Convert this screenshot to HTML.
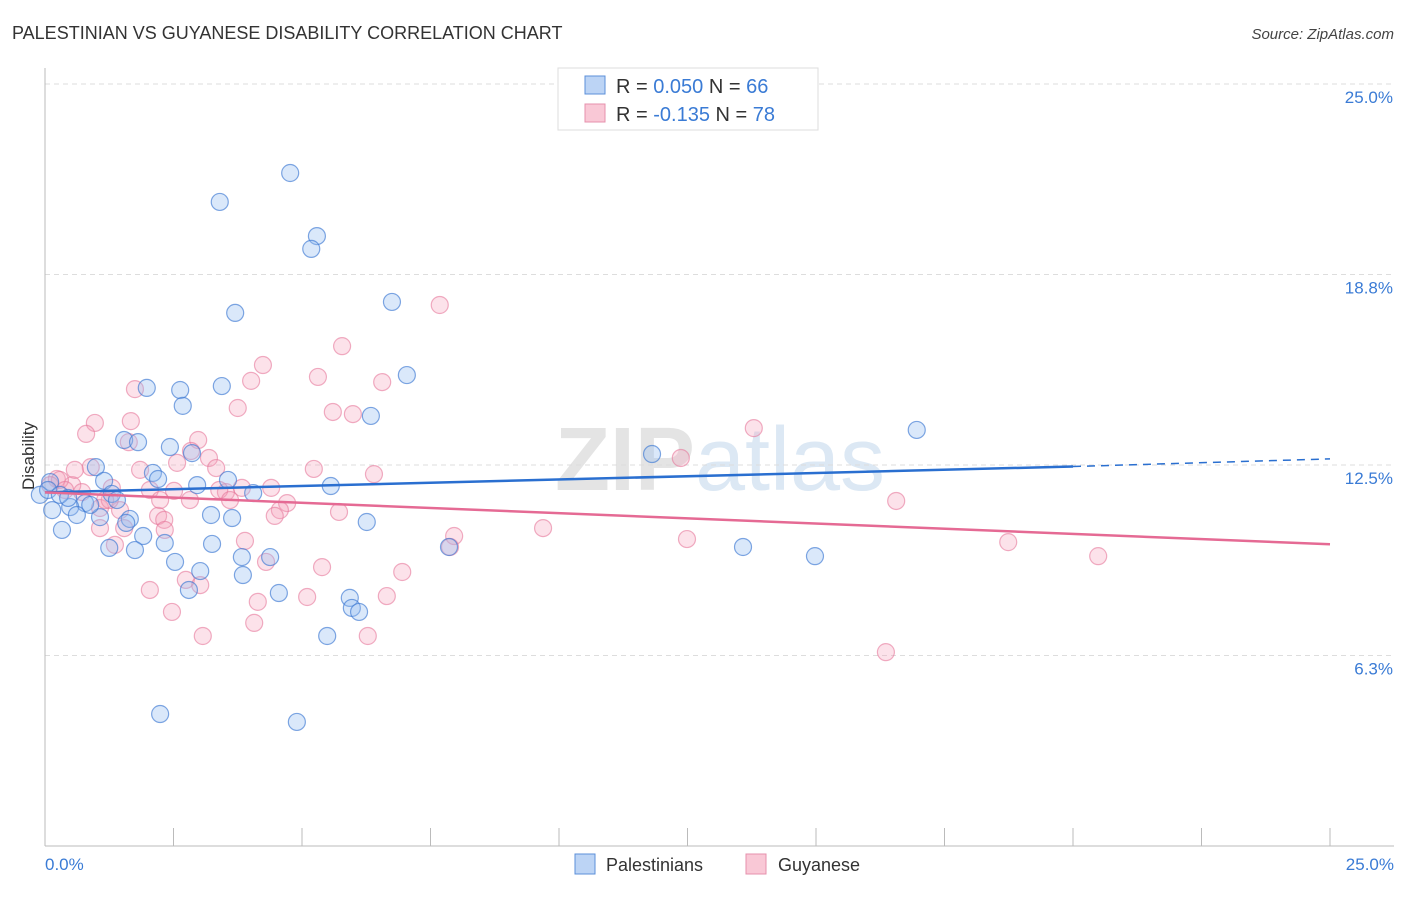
<!DOCTYPE html>
<html><head><meta charset="utf-8"><style>
body{margin:0;background:#fff;font-family:"Liberation Sans",sans-serif;}
svg text{font-family:"Liberation Sans",sans-serif;}
</style></head><body>
<svg id="chart" width="1406" height="892" viewBox="0 0 1406 892" xmlns="http://www.w3.org/2000/svg">
<text x="12" y="39" font-size="18" fill="#333">PALESTINIAN VS GUYANESE DISABILITY CORRELATION CHART</text>
<text x="1394" y="39" font-size="15" fill="#444" text-anchor="end" font-style="italic">Source: ZipAtlas.com</text>
<text x="720" y="490" font-size="90" fill="#e4e4e4" text-anchor="middle" font-family="Liberation Serif"><tspan font-weight="bold">ZIP</tspan><tspan fill="#dce8f4" font-family="Liberation Sans">atlas</tspan></text>
<g id="grid"></g>
<line x1="45" y1="68" x2="45" y2="846" stroke="#bbb"/>
<line x1="45" y1="846" x2="1394" y2="846" stroke="#bbb"/>
<g id="ticks"></g>
<text transform="translate(34,456) rotate(-90)" font-size="17" fill="#333" text-anchor="middle">Disability</text>
<text x="45" y="870" font-size="17" fill="#3a7bd5">0.0%</text>
<text x="1394" y="870" font-size="17" fill="#3a7bd5" text-anchor="end">25.0%</text>
<g id="pts"></g>
<g id="lines"></g>
<g>
<rect x="558" y="68" width="260" height="62" fill="#fff" stroke="#ddd"/>
<rect x="585" y="76" width="20" height="18" fill="#bcd4f5" stroke="#5b8fd9"/>
<rect x="585" y="104" width="20" height="18" fill="#f9c8d6" stroke="#e690ac"/>
<text x="616" y="93" font-size="20" fill="#333">R = <tspan fill="#3a7bd5">0.050</tspan>   N = <tspan fill="#3a7bd5">66</tspan></text>
<text x="616" y="121" font-size="20" fill="#333">R = <tspan fill="#3a7bd5">-0.135</tspan>   N = <tspan fill="#3a7bd5">78</tspan></text>
</g>
<g>
<rect x="575" y="854" width="20" height="20" fill="#bcd4f5" stroke="#5b8fd9"/>
<text x="606" y="871" font-size="18" fill="#333">Palestinians</text>
<rect x="746" y="854" width="20" height="20" fill="#f9c8d6" stroke="#e690ac"/>
<text x="778" y="871" font-size="18" fill="#333">Guyanese</text>
</g>
</svg>
<script>
const yTicks=[6.25,12.5,18.75,25];
const yTickLabels=["6.3%","12.5%","18.8%","25.0%"];
const xTicks=[0,2.5,5,7.5,10,12.5,15,17.5,20,22.5,25];
const bluePx=[[290,173],[220,202],[317,236],[311,249],[392,302],[235,313],[407,375],[147,388],[180,390],[222,386],[183,406],[371,416],[917,430],[652,454],[124,440],[138,442],[170,447],[192,453],[228,480],[153,473],[158,479],[96,467],[50,482],[104,481],[112,494],[197,485],[253,493],[331,486],[85,503],[70,507],[52,510],[77,515],[100,517],[130,519],[211,515],[232,518],[367,522],[126,523],[62,530],[143,536],[165,543],[212,544],[242,557],[270,557],[109,548],[135,550],[449,547],[743,547],[815,556],[175,562],[200,571],[243,575],[279,593],[189,590],[350,598],[352,608],[359,612],[327,636],[160,714],[297,722],[40,495],[48,490],[60,495],[68,498],[117,500],[90,505]];
const pinkPx=[[440,305],[342,346],[263,365],[318,377],[251,381],[135,389],[382,382],[333,412],[353,414],[238,408],[131,421],[95,423],[86,434],[129,442],[198,440],[754,428],[191,451],[209,458],[177,463],[91,467],[314,469],[374,474],[681,458],[216,468],[57,479],[72,485],[82,492],[112,488],[150,490],[174,491],[226,492],[242,488],[271,488],[219,490],[100,508],[120,510],[158,516],[287,503],[280,510],[275,516],[339,512],[896,501],[543,528],[124,528],[164,520],[100,528],[165,530],[454,536],[687,539],[1008,542],[1098,556],[245,541],[115,545],[450,547],[266,562],[322,567],[402,572],[186,580],[200,585],[150,590],[307,597],[258,602],[387,596],[172,612],[254,623],[203,636],[368,636],[886,652],[60,480],[50,485],[65,490],[110,500],[140,470],[75,470],[105,500],[230,500],[160,500],[190,500]];
// convert read pixel positions to data values (percent)
const blueX=bluePx.map(p=>+((p[0]-45)/51.4).toFixed(2));
const blueY=bluePx.map(p=>+((846-p[1])/30.48).toFixed(2));
const pinkX=pinkPx.map(p=>+((p[0]-45)/51.4).toFixed(2));
const pinkY=pinkPx.map(p=>+((846-p[1])/30.48).toFixed(2));
const blueTrend=[[0,11.6],[20,12.45],[25,12.7]];
const pinkTrend=[[0,11.6],[25,9.9]];
const X=v=>45+v*51.4, Y=v=>846-v*30.48;
const NS="http://www.w3.org/2000/svg";
function mk(t,a,parent){const e=document.createElementNS(NS,t);for(const k in a)e.setAttribute(k,a[k]);parent.appendChild(e);return e;}
const grid=document.getElementById('grid'),ticks=document.getElementById('ticks');
yTicks.forEach((v,i)=>{
 const l=mk('line',{x1:45,x2:1394,y1:Y(v),y2:Y(v),stroke:'#ddd','stroke-dasharray':'5,4'},grid);
 
 
 const t=mk('text',{x:1393,y:Y(v)+19,'font-size':17,fill:'#3a7bd5','text-anchor':'end'},ticks);
 t.textContent=yTickLabels[i];
 
 
});
xTicks.forEach(v=>{
 const l=mk('line',{x1:X(v),x2:X(v),y1:828,y2:846,stroke:'#bbb'},ticks);
 
 
});
const pts=document.getElementById('pts');
pinkX.forEach((x,i)=>{
 const c=mk('circle',{cx:X(x),cy:Y(pinkY[i]),r:8.5,fill:'rgba(244,160,185,0.3)',stroke:'rgba(230,120,155,0.6)','stroke-width':1.2},pts);
 
 
});
blueX.forEach((x,i)=>{
 const c=mk('circle',{cx:X(x),cy:Y(blueY[i]),r:8.5,fill:'rgba(150,190,240,0.35)',stroke:'rgba(60,120,210,0.65)','stroke-width':1.2},pts);
 
 
});
const lines=document.getElementById('lines');
let b=mk('line',{x1:X(blueTrend[0][0]),y1:Y(blueTrend[0][1]),x2:X(blueTrend[1][0]),y2:Y(blueTrend[1][1]),stroke:'#2a6fd0','stroke-width':2.5},lines);


let bd=mk('line',{x1:X(blueTrend[1][0]),y1:Y(blueTrend[1][1]),x2:X(blueTrend[2][0]),y2:Y(blueTrend[2][1]),stroke:'#2a6fd0','stroke-width':1.5,'stroke-dasharray':'8,6'},lines);


let p=mk('line',{x1:X(pinkTrend[0][0]),y1:Y(pinkTrend[0][1]),x2:X(pinkTrend[1][0]),y2:Y(pinkTrend[1][1]),stroke:'#e56a94','stroke-width':2.5},lines);


</script>
</body></html>
